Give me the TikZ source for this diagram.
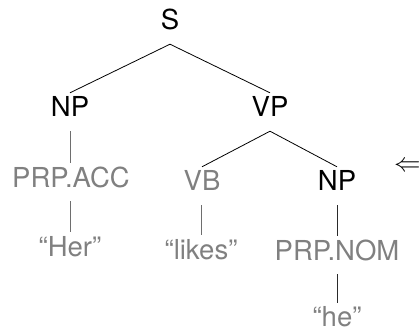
\documentclass[tikz,border=0pt]{standalone}
\usepackage{fix-cm}
\usepackage{fontspec}
\setmainfont{TeX Gyre Heros}
\definecolor{lightlab}{HTML}{808080}
\definecolor{lightline}{HTML}{6E6E6E}
\definecolor{darkline}{HTML}{2A2A2A}
\begin{document}
\begin{tikzpicture}[x=1pt,y=-1pt,
  lab/.style={anchor=base,inner sep=0pt,text height=24pt,text depth=14pt,font=\fontsize{27.5}{30}\selectfont},
  grey/.style={lab,text=lightlab},
  leaf/.style={grey,text depth=0pt},
  edge/.style={line width=0.8pt,black},
  greyedge/.style={line width=0.8pt,lightline},
  darkedge/.style={line width=0.8pt,darkline}]
\useasboundingbox (0,0) rectangle (420,331);
\node[lab] (S) at (170,30) {S};
\node[lab] (NP1) at (70,117) {NP};
\node[lab] (VP) at (270,117) {VP};
\node[grey] (PA) at (71,187) {PRP.ACC};
\node[grey] (VB) at (202,191) {VB};
\node[lab] (NP2) at (337,191) {NP};
\node[leaf] (Her) at (70,256) {“Her”};
\node[leaf] (likes) at (201,259) {“likes”};
\node[grey] (PN) at (337,260) {PRP.NOM};
\node[leaf,text height=23pt] (he) at (337,326) {“he”};
\node[anchor=west,inner sep=0pt,font=\fontsize{26.5}{30}\selectfont] (arr) at (394,167) {$\Leftarrow$};
\draw[edge] (S.south) -- (NP1.north);
\draw[edge] (S.south) -- (VP.north);
\draw[edge] (VP.south) -- (VB.north);
\draw[edge] (VP.south) -- (NP2.north);
\draw[greyedge] (NP1.south) -- (PA.north -| NP1.south);
\draw[greyedge] (PA.south -| Her.north) -- (Her.north);
\draw[greyedge] (VB.south -| likes.north) -- (likes.north);
\draw[darkedge] (NP2.south) -- (PN.north);
\draw[darkedge] (PN.south) -- (he.north);
\end{tikzpicture}
\end{document}
